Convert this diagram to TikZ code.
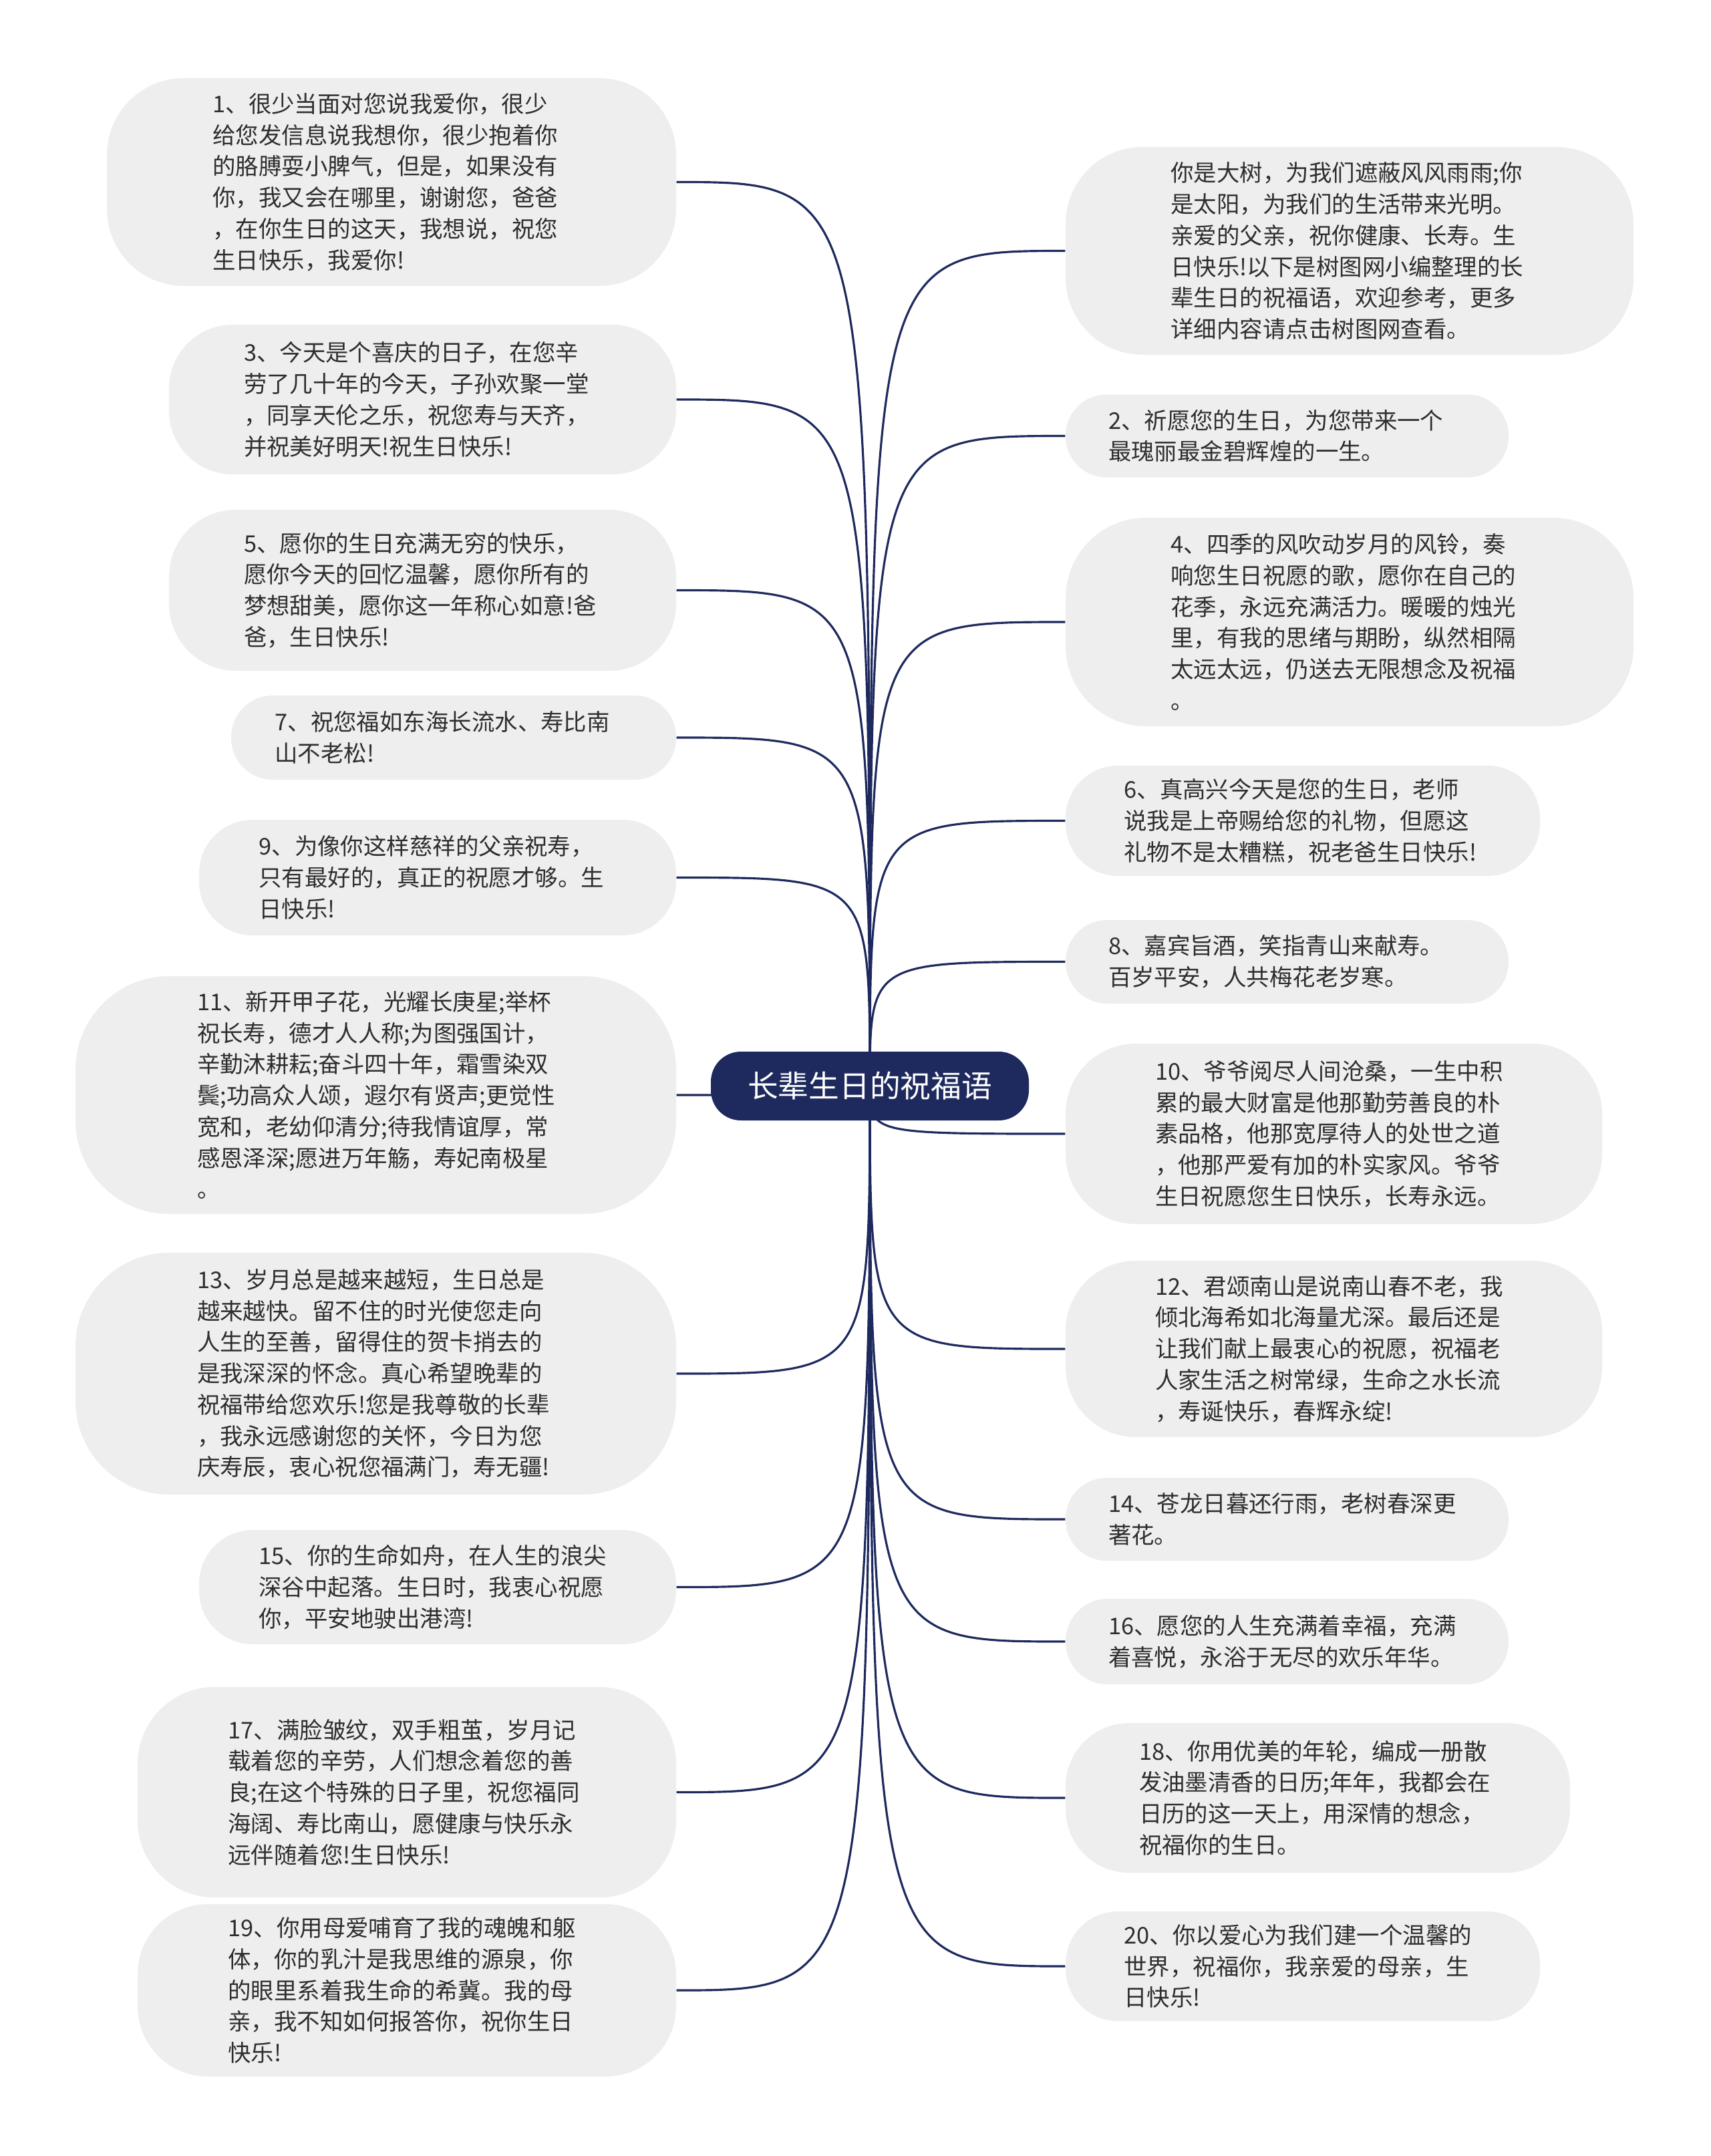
\documentclass[tikz,border=0pt]{standalone}
\usepackage{fontspec}
\newfontfamily\cjk{Noto Sans CJK SC}
\definecolor{rootblue}{HTML}{1E2A5E}
\definecolor{boxgray}{HTML}{EEEEEE}
\definecolor{inkgray}{HTML}{2E2E2E}
\tikzset{
  wish/.style={fill=boxgray, text=inkgray, align=left, text width=5.35cm, inner sep=0pt,
    rounded corners=#1, font=\cjk\fontsize{9.8}{13.3}\selectfont},
  link/.style={draw=rootblue, line width=0.9pt},
  root/.style={fill=rootblue, text=white, rounded corners=0.45cm, inner sep=0pt,
    minimum width=4.76cm, minimum height=1.03cm, font=\cjk\fontsize{13}{15}\selectfont}
}

\begin{document}
\begin{tikzpicture}
 \useasboundingbox (0,0) rectangle (25.6,-32.27);
 % left column
 \node[wish=1.15cm, minimum width=8.52cm, minimum height=3.11cm] (b1) at (5.86,-2.725)
  {1、很少当面对您说我爱你，很少\\给您发信息说我想你，很少抱着你\\的胳膊耍小脾气，但是，如果没有\\你，我又会在哪里，谢谢您，爸爸\\，在你生日的这天，我想说，祝您\\生日快乐，我爱你!};
 \node[wish=0.95cm, minimum width=7.59cm, minimum height=2.24cm] (b3) at (6.325,-5.98)
  {3、今天是个喜庆的日子，在您辛\\劳了几十年的今天，子孙欢聚一堂\\，同享天伦之乐，祝您寿与天齐，\\并祝美好明天!祝生日快乐!};
 \node[wish=1.0cm, minimum width=7.59cm, minimum height=2.41cm] (b5) at (6.325,-8.835)
  {5、愿你的生日充满无穷的快乐，\\愿你今天的回忆温馨，愿你所有的\\梦想甜美，愿你这一年称心如意!爸\\爸，生日快乐!};
 \node[wish=0.62cm, minimum width=6.66cm, minimum height=1.26cm] (b7) at (6.79,-11.04)
  {7、祝您福如东海长流水、寿比南\\山不老松!};
 \node[wish=0.8cm, minimum width=7.14cm, minimum height=1.73cm] (b9) at (6.55,-13.135)
  {9、为像你这样慈祥的父亲祝寿，\\只有最好的，真正的祝愿才够。生\\日快乐!};
 \node[wish=1.4cm, minimum width=8.99cm, minimum height=3.56cm] (b11) at (5.625,-16.39)
  {11、新开甲子花，光耀长庚星;举杯\\祝长寿，德才人人称;为图强国计，\\辛勤沐耕耘;奋斗四十年，霜雪染双\\鬓;功高众人颂，遐尔有贤声;更觉性\\宽和，老幼仰清分;待我情谊厚，常\\感恩泽深;愿进万年觞，寿妃南极星\\。};
 \node[wish=1.4cm, minimum width=8.99cm, minimum height=3.62cm] (b13) at (5.625,-20.56)
  {13、岁月总是越来越短，生日总是\\越来越快。留不住的时光使您走向\\人生的至善，留得住的贺卡捎去的\\是我深深的怀念。真心希望晚辈的\\祝福带给您欢乐!您是我尊敬的长辈\\，我永远感谢您的关怀，今日为您\\庆寿辰，衷心祝您福满门，寿无疆!};
 \node[wish=0.8cm, minimum width=7.14cm, minimum height=1.71cm] (b15) at (6.55,-23.755)
  {15、你的生命如舟，在人生的浪尖\\深谷中起落。生日时，我衷心祝愿\\你，平安地驶出港湾!};
 \node[wish=1.15cm, minimum width=8.06cm, minimum height=3.15cm] (b17) at (6.09,-26.825)
  {17、满脸皱纹，双手粗茧，岁月记\\载着您的辛劳，人们想念着您的善\\良;在这个特殊的日子里，祝您福同\\海阔、寿比南山，愿健康与快乐永\\远伴随着您!生日快乐!};
 \node[wish=1.05cm, minimum width=8.06cm, minimum height=2.58cm] (b19) at (6.09,-29.79)
  {19、你用母爱哺育了我的魂魄和躯\\体，你的乳汁是我思维的源泉，你\\的眼里系着我生命的希冀。我的母\\亲，我不知如何报答你，祝你生日\\快乐!};
 % right column
 \node[wish=1.15cm, minimum width=8.5cm, minimum height=3.11cm] (b0) at (20.2,-3.755)
  {你是大树，为我们遮蔽风风雨雨;你\\是太阳，为我们的生活带来光明。\\亲爱的父亲，祝你健康、长寿。生\\日快乐!以下是树图网小编整理的长\\辈生日的祝福语，欢迎参考，更多\\详细内容请点击树图网查看。};
 \node[wish=0.61cm, minimum width=6.63cm, minimum height=1.24cm] (b2) at (19.265,-6.525)
  {2、祈愿您的生日，为您带来一个\\最瑰丽最金碧辉煌的一生。};
 \node[wish=1.2cm, minimum width=8.5cm, minimum height=3.12cm] (b4) at (20.2,-9.31)
  {4、四季的风吹动岁月的风铃，奏\\响您生日祝愿的歌，愿你在自己的\\花季，永远充满活力。暖暖的烛光\\里，有我的思绪与期盼，纵然相隔\\太远太远，仍送去无限想念及祝福\\。};
 \node[wish=0.78cm, minimum width=7.1cm, minimum height=1.65cm] (b6) at (19.5,-12.285)
  {6、真高兴今天是您的生日，老师\\说我是上帝赐给您的礼物，但愿这\\礼物不是太糟糕，祝老爸生日快乐!};
 \node[wish=0.62cm, minimum width=6.63cm, minimum height=1.25cm] (b8) at (19.265,-14.395)
  {8、嘉宾旨酒，笑指青山来献寿。\\百岁平安，人共梅花老岁寒。};
 \node[wish=1.05cm, minimum width=8.03cm, minimum height=2.7cm] (b10) at (19.965,-16.97)
  {10、爷爷阅尽人间沧桑，一生中积\\累的最大财富是他那勤劳善良的朴\\素品格，他那宽厚待人的处世之道\\，他那严爱有加的朴实家风。爷爷\\生日祝愿您生日快乐，长寿永远。};
 \node[wish=1.05cm, minimum width=8.03cm, minimum height=2.64cm] (b12) at (19.965,-20.19)
  {12、君颂南山是说南山春不老，我\\倾北海希如北海量尤深。最后还是\\让我们献上最衷心的祝愿，祝福老\\人家生活之树常绿，生命之水长流\\，寿诞快乐，春辉永绽!};
 \node[wish=0.61cm, minimum width=6.63cm, minimum height=1.24cm] (b14) at (19.265,-22.74)
  {14、苍龙日暮还行雨，老树春深更\\著花。};
 \node[wish=0.63cm, minimum width=6.63cm, minimum height=1.28cm] (b16) at (19.265,-24.57)
  {16、愿您的人生充满着幸福，充满\\着喜悦，永浴于无尽的欢乐年华。};
 \node[wish=0.95cm, minimum width=7.55cm, minimum height=2.24cm] (b18) at (19.725,-26.91)
  {18、你用优美的年轮，编成一册散\\发油墨清香的日历;年年，我都会在\\日历的这一天上，用深情的想念，\\祝福你的生日。};
 \node[wish=0.78cm, minimum width=7.1cm, minimum height=1.64cm] (b20) at (19.5,-29.43)
  {20、你以爱心为我们建一个温馨的\\世界，祝福你，我亲爱的母亲，生\\日快乐!};
 % links
 \coordinate (hub) at (13.02,-16.255);
 \foreach \i in {1,3,...,19}
  \draw[link] (hub) .. controls (hub |- b\i.east) .. (b\i.east);
 \foreach \i in {0,2,...,20}
  \draw[link] (hub) .. controls (hub |- b\i.west) .. (b\i.west);
 \node[root] (top) at (hub) {长辈生日的祝福语};
\end{tikzpicture}
\end{document}
